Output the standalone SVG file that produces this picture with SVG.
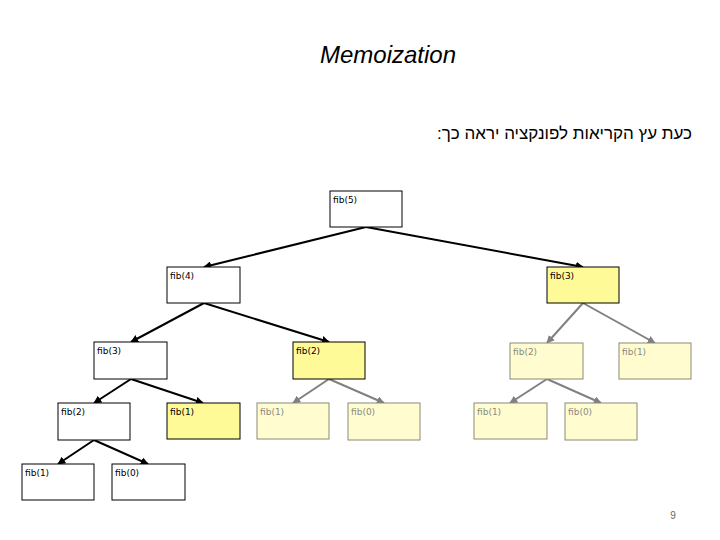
<svg xmlns="http://www.w3.org/2000/svg" width="720" height="540" viewBox="0 0 720 540">
<style>
.n rect{stroke:#000;stroke-width:1;fill:#fff}
.y rect{fill:#fffa98}
.f rect{fill:#fffcd0;stroke:#8a8a78}
.n text{font-family:"DejaVu Sans",sans-serif;font-size:9px;fill:#000}
.f text{fill:#8a8a80}
.e{stroke:#000;stroke-width:2;fill:none;marker-end:url(#a)}
.g{stroke:#808080;stroke-width:2;fill:none;marker-end:url(#b)}
</style>
<defs>
<marker id="a" viewBox="0 0 10 10" refX="9" refY="5" markerWidth="4" markerHeight="4" orient="auto" markerUnits="strokeWidth"><path d="M0,0L10,5L0,10z" fill="#000"/></marker>
<marker id="b" viewBox="0 0 10 10" refX="9" refY="5" markerWidth="4" markerHeight="4" orient="auto" markerUnits="strokeWidth"><path d="M0,0L10,5L0,10z" fill="#808080"/></marker>
</defs>
<rect width="720" height="540" fill="#fff"/>
<text x="388" y="63" text-anchor="middle" font-family="Liberation Sans,sans-serif" font-style="italic" font-size="24">Memoization</text>
<text x="692" y="139" text-anchor="start" direction="rtl" font-family="Liberation Sans,sans-serif" font-size="17">כעת עץ הקריאות לפונקציה יראה כך:</text>
<text x="673" y="519" text-anchor="middle" font-family="Liberation Sans,sans-serif" font-size="10" fill="#666">9</text>
<g id="edges">
<path class="e" d="M366,227L204,267"/>
<path class="e" d="M366,227L583,267"/>
<path class="e" d="M204,303L131,342"/>
<path class="e" d="M204,303L329,342"/>
<path class="e" d="M131,379L94,403"/>
<path class="e" d="M131,379L203,403"/>
<path class="e" d="M94,440L58,464"/>
<path class="e" d="M94,440L148,464"/>
<path class="g" d="M329,379L293,403"/>
<path class="g" d="M329,379L384,403"/>
<path class="g" d="M583,303L547,343"/>
<path class="g" d="M583,303L655,343"/>
<path class="g" d="M547,379L510,403"/>
<path class="g" d="M547,379L601,403"/>
</g>
<g id="n5" class="n"><rect x="330" y="191" width="72" height="36"/><text x="333" y="203">fib(5)</text></g>
<g id="n4" class="n"><rect x="167" y="267" width="73" height="36"/><text x="170" y="279">fib(4)</text></g>
<g id="n3r" class="n y"><rect x="547" y="267" width="72" height="36"/><text x="550" y="279">fib(3)</text></g>
<g id="n3l" class="n"><rect x="94" y="342" width="73" height="37"/><text x="97" y="354">fib(3)</text></g>
<g id="n2y" class="n y"><rect x="293" y="342" width="72" height="37"/><text x="296" y="354">fib(2)</text></g>
<g id="n2r" class="n f"><rect x="510" y="343" width="73" height="36"/><text x="513" y="355">fib(2)</text></g>
<g id="n1r" class="n f"><rect x="619" y="343" width="72" height="36"/><text x="622" y="355">fib(1)</text></g>
<g id="n2l" class="n"><rect x="58" y="403" width="72" height="37"/><text x="61" y="415">fib(2)</text></g>
<g id="n1y" class="n y"><rect x="167" y="403" width="73" height="36"/><text x="170" y="415">fib(1)</text></g>
<g id="n1f" class="n f"><rect x="257" y="403" width="72" height="36"/><text x="260" y="415">fib(1)</text></g>
<g id="n0f" class="n f"><rect x="348" y="403" width="72" height="37"/><text x="351" y="415">fib(0)</text></g>
<g id="n1rr" class="n f"><rect x="474" y="403" width="73" height="36"/><text x="477" y="415">fib(1)</text></g>
<g id="n0rr" class="n f"><rect x="565" y="403" width="72" height="37"/><text x="568" y="415">fib(0)</text></g>
<g id="n1l" class="n"><rect x="22" y="464" width="72" height="36"/><text x="25" y="476">fib(1)</text></g>
<g id="n0l" class="n"><rect x="112" y="464" width="73" height="36"/><text x="115" y="476">fib(0)</text></g>
</svg>
